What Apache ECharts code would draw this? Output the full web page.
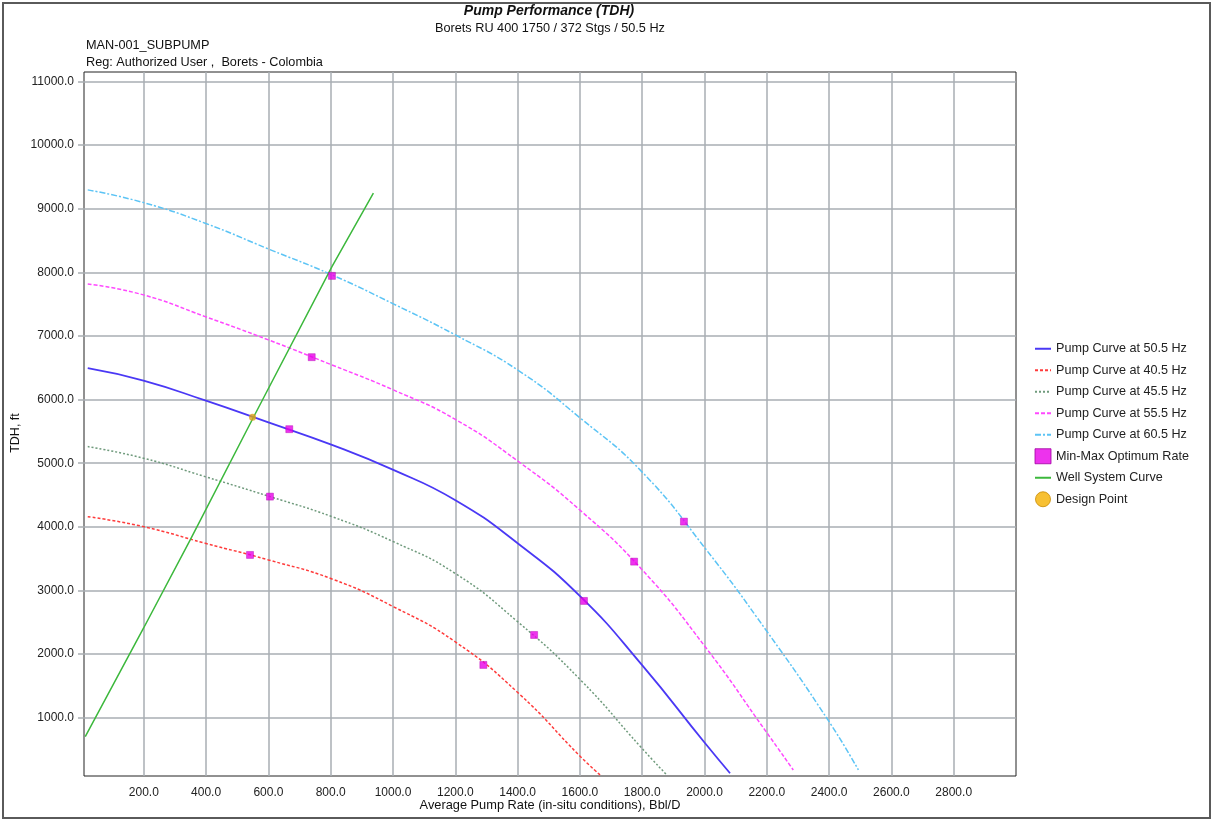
<!DOCTYPE html>
<html>
<head>
<meta charset="utf-8">
<script src="https://cdn.jsdelivr.net/npm/echarts@6/dist/echarts.min.js"></script>
<style>
html,body{margin:0;padding:0;background:#fff;}
#chart{width:1214px;height:823px;}
</style>
</head>
<body>
<div id="chart"></div>
<script>
// ---- Data ----
const xTicks = [200, 400, 600, 800, 1000, 1200, 1400, 1600, 1800, 2000, 2200, 2400, 2600, 2800];
const yTicks = [1000, 2000, 3000, 4000, 5000, 6000, 7000, 8000, 9000, 10000, 11000];

const curve50_5 = [[20,6494],[199,6299],[397,5987],[600,5642],[804,5288],[1001,4895],[1199,4423],[1400,3742],[1602,2902],[1799,1829],[2002,597],[2082,126]];
const curve40_5 = [[20,4160],[199,4003],[397,3742],[600,3480],[804,3181],[1001,2745],[1199,2195],[1403,1384],[1602,387],[1665,99]];
const curve45_5 = [[20,5261],[199,5079],[397,4789],[605,4475],[804,4160],[1001,3767],[1199,3270],[1400,2509],[1602,1593],[1799,519],[1879,99]];
const curve55_5 = [[20,7819],[199,7646],[397,7305],[600,6939],[804,6545],[1001,6152],[1199,5692],[1403,5025],[1602,4255],[1800,3323],[2002,2116],[2200,764],[2285,178]];
const curve60_5 = [[20,9297],[199,9097],[397,8773],[600,8368],[804,7961],[1001,7505],[1199,7020],[1403,6456],[1602,5707],[1800,4860],[2002,3663],[2201,2352],[2400,937],[2494,178]];
const optimumRate = [[804,7945],[1934,4082],[739,6667],[1774,3453],[667,5535],[1613,2835],[605,4475],[1453,2300],[541,3558],[1290,1829]];
const wellSystem = [[12,701],[199,2406],[349,3794],[552,5723],[804,8091],[937,9245]];
const designPoint = [[549,5723]];

const FONT = '"Liberation Sans", Arial, sans-serif';
const chart = echarts.init(document.getElementById('chart'), null, {renderer: 'canvas'});

function lineSeries(name, data, color, width, dash, smooth) {
  return {
    name: name, type: 'line', data: data, symbol: 'none', smooth: smooth,
    lineStyle: {color: color, width: width, type: dash},
    itemStyle: {color: color}, z: 3
  };
}
const hidden = {opacity: 0};

const option = {
  backgroundColor: '#ffffff',
  animation: false,
  textStyle: {fontFamily: FONT},
  graphic: [
    {type: 'rect', shape: {x: 3, y: 3, width: 1207, height: 815}, style: {fill: 'none', stroke: '#5a5a5a', lineWidth: 2}},
    {type: 'text', x: 549, y: 11, style: {text: 'Pump Performance (TDH)', font: 'italic bold 14px ' + FONT, fill: '#111', align: 'center', verticalAlign: 'middle'}},
    {type: 'text', x: 550, y: 28, style: {text: 'Borets RU 400 1750 / 372 Stgs / 50.5 Hz', font: '12.7px ' + FONT, fill: '#111', align: 'center', verticalAlign: 'middle'}},
    {type: 'text', x: 86, y: 45, style: {text: 'MAN-001_SUBPUMP', font: '12.7px ' + FONT, fill: '#111', align: 'left', verticalAlign: 'middle'}},
    {type: 'text', x: 86, y: 62, style: {text: 'Reg: Authorized User ,  Borets - Colombia', font: '12.7px ' + FONT, fill: '#111', align: 'left', verticalAlign: 'middle'}},
    {type: 'text', x: 16, y: 433, rotation: Math.PI / 2, style: {text: 'TDH, ft', font: '12.5px ' + FONT, fill: '#111', align: 'center', verticalAlign: 'middle'}},
    {type: 'text', x: 550, y: 805, style: {text: 'Average Pump Rate (in-situ conditions), Bbl/D', font: '12.8px ' + FONT, fill: '#111', align: 'center', verticalAlign: 'middle'}}
  ],
  grid: {left: 84, right: 198, top: 72, bottom: 47, show: true, borderColor: '#222', borderWidth: 1, backgroundColor: '#fff'},
  xAxis: {
    type: 'value', min: 8, max: 3000,
    axisLine: {show: false},
    axisTick: {show: false, customValues: xTicks},
    axisLabel: {customValues: xTicks, color: '#222', fontSize: 12, margin: 11, formatter: v => v.toFixed(1)},
    splitLine: {show: true, lineStyle: {color: '#a9aeb3', width: 1.5}}
  },
  yAxis: {
    type: 'value', min: 83, max: 11150,
    axisLine: {show: false},
    axisTick: {show: true, inside: false, length: 6, customValues: yTicks, lineStyle: {color: '#a9aeb3', width: 1.5}},
    axisLabel: {customValues: yTicks, color: '#222', fontSize: 12, margin: 10, formatter: v => v.toFixed(1)},
    splitLine: {show: true, lineStyle: {color: '#a9aeb3', width: 1.5}}
  },
  legend: {
    orient: 'vertical', left: 1029, top: 333, itemWidth: 16, itemHeight: 15, itemGap: 0,
    textStyle: {color: '#222', fontSize: 12.6, fontFamily: FONT, lineHeight: 21.5},
    data: [
      {name: 'Pump Curve at 50.5 Hz', itemStyle: hidden},
      {name: 'Pump Curve at 40.5 Hz', itemStyle: hidden},
      {name: 'Pump Curve at 45.5 Hz', itemStyle: hidden},
      {name: 'Pump Curve at 55.5 Hz', itemStyle: hidden},
      {name: 'Pump Curve at 60.5 Hz', itemStyle: hidden},
      {name: 'Min-Max Optimum Rate', icon: 'rect', itemStyle: {color: '#e800e8', borderColor: '#a000a0', borderWidth: 1}},
      {name: 'Well System Curve', itemStyle: hidden},
      {name: 'Design Point', icon: 'circle', itemStyle: {color: '#f5b000', borderColor: '#c88a00', borderWidth: 1}}
    ]
  },
  series: [
    lineSeries('Pump Curve at 50.5 Hz', curve50_5, '#4a38f5', 1.8, 'solid', 0.5),
    lineSeries('Pump Curve at 40.5 Hz', curve40_5, '#ff3b3b', 1.5, [3, 2], 0.5),
    lineSeries('Pump Curve at 45.5 Hz', curve45_5, '#6f9a7c', 1.5, [2, 2], 0.5),
    lineSeries('Pump Curve at 55.5 Hz', curve55_5, '#ff48ff', 1.5, [4, 2], 0.5),
    lineSeries('Pump Curve at 60.5 Hz', curve60_5, '#5cc4f5', 1.5, [6, 2, 2, 2], 0.5),
    {
      name: 'Min-Max Optimum Rate', type: 'scatter', data: optimumRate, symbol: 'rect', symbolSize: 7,
      itemStyle: {color: '#e800e8', borderColor: '#b000b0', borderWidth: 0.5}, z: 5
    },
    lineSeries('Well System Curve', wellSystem, '#3cb83c', 1.5, 'solid', false),
    {
      name: 'Design Point', type: 'scatter', data: designPoint, symbol: 'circle', symbolSize: 7,
      itemStyle: {color: '#dca21c'}, z: 6
    }
  ]
};
chart.setOption(option);
</script>
</body>
</html>
